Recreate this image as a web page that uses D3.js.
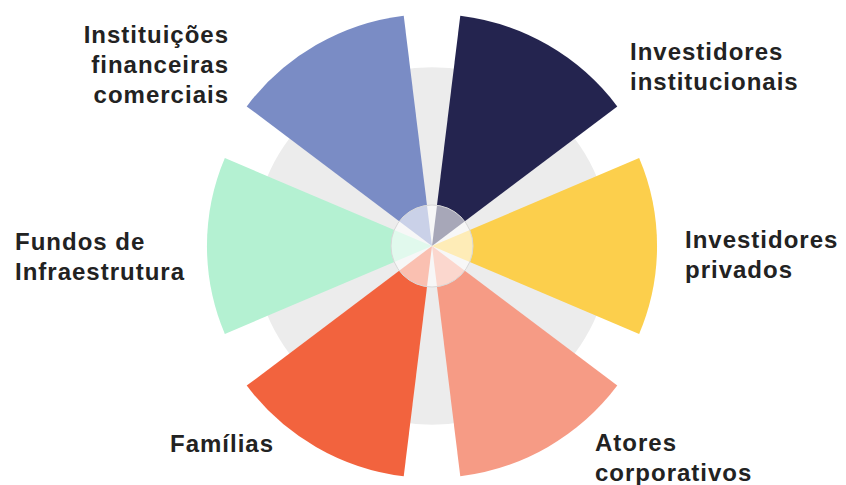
<!DOCTYPE html>
<html>
<head>
<meta charset="utf-8">
<script src="https://cdn.jsdelivr.net/npm/d3@7"></script>
<style>
  body { margin: 0; background: #fff; }
  svg { display: block; }
</style>
</head>
<body>
<div id="chart"></div>
<script>
// Categorias no sentido horário a partir do topo
const categories = [
  "Investidores institucionais",
  "Investidores privados",
  "Atores corporativos",
  "Famílias",
  "Fundos de Infraestrutura",
  "Instituições financeiras comerciais"
];
const values = [100, 97, 100, 100, 97, 100];
const colors = ["#24244f", "#fccf4c", "#f69b85", "#f2633e", "#b4f1d2", "#7a8cc5"];
const backgroundValue = 77;

// Rótulos (linhas quebradas)
const labelLines = [
  ["Investidores", "institucionais"],
  ["Investidores", "privados"],
  ["Atores", "corporativos"],
  ["Famílias"],
  ["Fundos de", "Infraestrutura"],
  ["Instituições", "financeiras", "comerciais"]
];

const width = 846, height = 485;
const cx = 432, cy = 246;

const svg = d3.select("#chart").append("svg")
  .attr("width", width)
  .attr("height", height);

const g = svg.append("g").attr("transform", `translate(${cx},${cy})`);

// Escala radial e angular
const r = d3.scaleLinear().domain([0, 100]).range([0, 232]);
const angle = d3.scaleLinear().domain([0, categories.length]).range([0, 2 * Math.PI]);
const gap = 14 * Math.PI / 180;

// Círculo cinza de fundo
g.append("circle")
  .attr("r", r(backgroundValue))
  .attr("fill", "#ececec");

const arc = d3.arc()
  .innerRadius(0)
  .outerRadius(d => r(d.value))
  .startAngle(d => angle(d.i) + gap / 2)
  .endAngle(d => angle(d.i + 1) - gap / 2);

g.selectAll("path.wedge")
  .data(values.map((v, i) => ({ value: v, i })))
  .enter()
  .append("path")
  .attr("class", "wedge")
  .attr("d", arc)
  .attr("fill", (d, i) => colors[i]);

// Círculo central semitransparente
g.append("circle")
  .attr("r", 41)
  .attr("fill", "#ffffff")
  .attr("fill-opacity", 0.6)
  .attr("stroke", "#d8d8d8")
  .attr("stroke-width", 1);

// Posições dos rótulos
const labelPos = [
  { x: 630, y: 60, anchor: "start" },
  { x: 685, y: 248, anchor: "start" },
  { x: 595, y: 451, anchor: "start" },
  { x: 170, y: 452, anchor: "start" },
  { x: 15, y: 250, anchor: "start" },
  { x: 229, y: 43, anchor: "end" }
];
const lineHeight = 30;

labelLines.forEach((lines, i) => {
  const p = labelPos[i];
  const t = svg.append("text")
    .attr("x", p.x)
    .attr("y", p.y)
    .attr("text-anchor", p.anchor)
    .attr("font-family", "'Liberation Sans', Arial, sans-serif")
    .attr("font-weight", "bold")
    .attr("font-size", "24px")
    .attr("letter-spacing", "1px")
    .attr("fill", "#222");
  lines.forEach((line, j) => {
    t.append("tspan")
      .attr("x", p.x)
      .attr("y", p.y + j * lineHeight)
      .text(line);
  });
});
</script>
</body>
</html>
